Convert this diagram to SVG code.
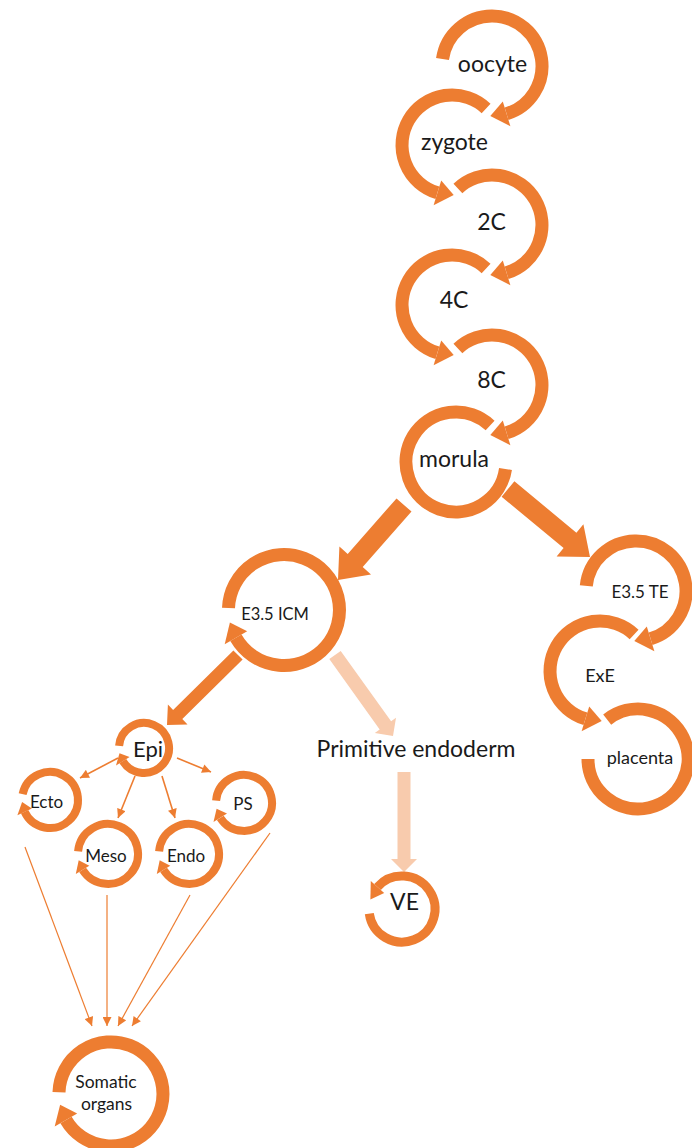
<svg xmlns="http://www.w3.org/2000/svg" width="692" height="1148" viewBox="0 0 692 1148">
<style>
.ring{fill:none;stroke:#ED7D31;stroke-linecap:butt}
.big{stroke-width:13}
.sm{stroke-width:8}
.head{fill:#ED7D31}
.lbl{font-family:Lato,"Liberation Sans",sans-serif;fill:#1a1a1a;text-anchor:middle}
.thin{stroke:#ED7D31;fill:none}
.pale{fill:#F8CBAD}
</style>
<defs>
<marker id="ah" viewBox="0 0 10 10" refX="10" refY="5" markerWidth="10" markerHeight="9" markerUnits="userSpaceOnUse" orient="auto">
<path d="M0,0 L10,5 L0,10 z" fill="#ED7D31"/>
</marker>
</defs>
<rect width="692" height="1148" fill="#fff"/>
<g id="connectors">
<polygon class="head" points="396.5,498.4 347.7,553.9 339.4,546.6 338,580 371.0,574.4 362.7,567.1 411.5,511.6"/>
<polygon class="head" points="501.6,496.7 563.6,548.1 556.6,556.6 590,557 583.4,524.2 576.4,532.7 514.4,481.3"/>
<polygon class="head" points="233.4,650.4 173.1,709.9 167.9,704.5 167,725 187.5,724.5 182.3,719.1 242.6,659.6"/>
<polygon class="pale" points="329.3,659.1 379.7,729.5 374.8,733.0 393,736 396.0,717.8 391.1,721.3 340.7,650.9"/>
<polygon class="pale" points="397.5,772 397.5,859 391,859 404,872 417,859 410.5,859 410.5,772"/>
<g class="thin" stroke-width="1.6" marker-end="url(#ah)">
<line x1="118" y1="758" x2="80" y2="778"/>
<line x1="135" y1="776" x2="118" y2="818"/>
<line x1="162" y1="776" x2="175" y2="818"/>
<line x1="177" y1="758" x2="211" y2="772"/>
</g>
<g class="thin" stroke-width="1.2" marker-end="url(#ah)">
<line x1="25" y1="847" x2="92" y2="1026"/>
<line x1="107" y1="895" x2="107" y2="1026"/>
<line x1="190" y1="895" x2="118" y2="1026"/>
<line x1="270" y1="833" x2="132" y2="1026"/>
</g>
</g>
<g id="oocyte">
<path class="ring big" d="M442.5,59.0 A50,50 0 1 1 506.6,113.8"/>
<polygon class="head" points="502.8,101.4 510.4,126.3 490.3,116.0"/>
<text class="lbl" x="492.5" y="72" font-size="23">oocyte</text>
</g>
<g id="zygote">
<path class="ring big" d="M486.1,108.4 A50,50 0 1 0 437.4,192.8"/>
<polygon class="head" points="441.2,180.4 433.6,205.3 453.7,195.0"/>
<text class="lbl" x="454.5" y="150" font-size="23">zygote</text>
</g>
<g id="c2">
<path class="ring big" d="M457.9,188.4 A50,50 0 1 1 506.6,272.8"/>
<polygon class="head" points="502.8,260.4 510.4,285.3 490.3,275.0"/>
<text class="lbl" x="491.5" y="230" font-size="23">2C</text>
</g>
<g id="c4">
<path class="ring big" d="M486.1,268.4 A50,50 0 1 0 437.4,352.8"/>
<polygon class="head" points="441.2,340.4 433.6,365.3 453.7,355.0"/>
<text class="lbl" x="454" y="308" font-size="23">4C</text>
</g>
<g id="c8">
<path class="ring big" d="M457.9,348.4 A50,50 0 1 1 506.6,432.8"/>
<polygon class="head" points="502.8,420.4 510.4,445.3 490.3,435.0"/>
<text class="lbl" x="491.5" y="388" font-size="23">8C</text>
</g>
<g id="morula">
<path class="ring big" d="M490.1,425.4 A50,50 0 1 0 505.5,469.0"/>
<text class="lbl" x="454" y="467" font-size="23">morula</text>
</g>
<g id="icm">
<path class="ring big" d="M228.5,608.1 A55.5,55.5 0 1 1 235.9,637.8"/>
<polygon class="head" points="247.2,631.3 224.7,644.3 229.9,622.5"/>
<text class="lbl" x="275" y="620" font-size="16.5">E3.5 ICM</text>
</g>
<g id="te">
<path class="ring big" d="M586.3,585.8 A50,50 0 1 1 650.6,638.8"/>
<polygon class="head" points="646.8,626.4 654.4,651.3 634.3,641.0"/>
<text class="lbl" x="640" y="598" font-size="17">E3.5 TE</text>
</g>
<g id="exe">
<path class="ring big" d="M634.1,634.4 A50,50 0 1 0 585.4,718.8"/>
<polygon class="head" points="589.2,706.4 581.6,731.3 601.7,721.0"/>
<text class="lbl" x="600" y="682" font-size="18">ExE</text>
</g>
<g id="placenta">
<path class="ring big" d="M607.2,719.6 A50,50 0 1 1 588,759"/>
<text class="lbl" x="640" y="764" font-size="18">placenta</text>
</g>
<g id="epi">
<path class="ring sm" d="M119.1,745.8 A25,25 0 1 1 122.8,761.2"/>
<polygon class="head" points="129.6,757.0 116.0,765.5 119.5,753.2"/>
<text class="lbl" x="148" y="757" font-size="22">Epi</text>
</g>
<g id="ecto">
<path class="ring sm" d="M22.6,794.2 A28,28 0 1 1 24.6,811.8"/>
<polygon class="head" points="31.9,808.5 17.4,815.2 22.1,802.0"/>
<text class="lbl" x="46.5" y="808" font-size="17">Ecto</text>
</g>
<g id="meso">
<path class="ring sm" d="M78.1,851.4 A30,30 0 1 1 82.6,869.9"/>
<polygon class="head" points="89.3,865.7 75.8,874.1 78.7,860.2"/>
<text class="lbl" x="106" y="862" font-size="17">Meso</text>
</g>
<g id="endo">
<path class="ring sm" d="M159.1,851.4 A30,30 0 1 1 163.6,869.9"/>
<polygon class="head" points="170.3,865.7 156.8,874.1 159.7,860.2"/>
<text class="lbl" x="186" y="862" font-size="17">Endo</text>
</g>
<g id="ps">
<path class="ring sm" d="M216.1,800.6 A28,28 0 1 1 220.3,817.8"/>
<polygon class="head" points="227.0,813.6 213.5,822.1 216.6,808.8"/>
<text class="lbl" x="243" y="810" font-size="17">PS</text>
</g>
<g id="primitive-endoderm">
<text class="lbl" x="416" y="757" font-size="23">Primitive endoderm</text>
</g>
<g id="ve">
<path class="ring" stroke-width="9" d="M369.3,913.6 A33,33 0 1 0 377.5,886.9"/>
<polygon class="head" points="384.2,892.9 370.8,880.9 370.4,899.4"/>
<text class="lbl" x="404.5" y="910" font-size="23">VE</text>
</g>
<g id="somatic">
<path class="ring big" d="M59.0,1092.2 A52,52 0 1 1 66.0,1120"/>
<polygon class="head" points="77.2,1113.5 54.7,1126.5 60.1,1104.8"/>
<text class="lbl" x="106" y="1088" font-size="17.5">Somatic</text>
<text class="lbl" x="106.5" y="1110" font-size="17.5">organs</text>
</g>
</svg>
